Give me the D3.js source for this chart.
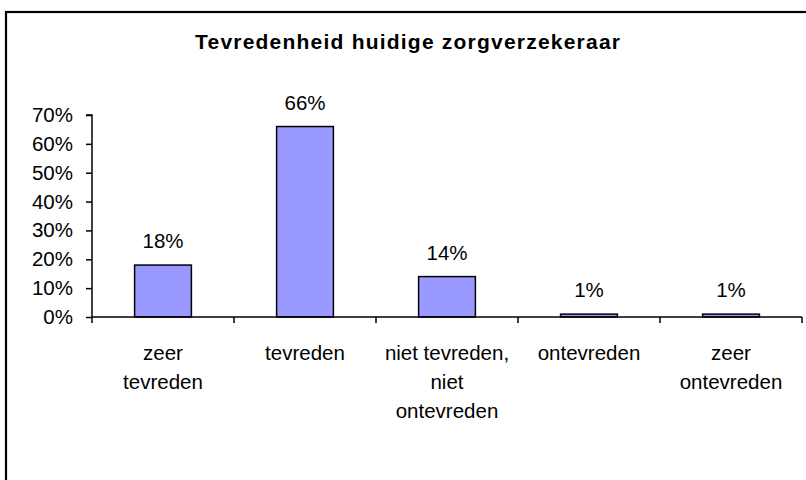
<!DOCTYPE html>
<html>
<head>
<meta charset="utf-8">
<script src="https://cdn.jsdelivr.net/npm/d3@7"></script>
<style>
  body { margin: 0; background: #fff; }
  svg { display: block; font-family: Arial, "Liberation Sans", sans-serif; }
</style>
</head>
<body>
<svg id="chart" width="806" height="480"></svg>
<script>
// data
const categories = [["zeer", "tevreden"], ["tevreden"], ["niet tevreden,", "niet", "ontevreden"], ["ontevreden"], ["zeer", "ontevreden"]]
const values = [0.18, 0.66, 0.14, 0.01, 0.01]
const yTicks = [0, 0.1, 0.2, 0.3, 0.4, 0.5, 0.6, 0.7]
const title = "Tevredenheid huidige zorgverzekeraar"

const fs = "20.5px"
const svg = d3.select("#chart")

// outer frame, runs off the right and bottom edge
svg.append("rect")
    .attr("x", 6).attr("y", 12)
    .attr("width", 900).attr("height", 600)
    .attr("fill", "white")
    .attr("stroke", "black")
    .attr("stroke-width", 2.2)

svg.append("text")
    .attr("x", 195).attr("y", 49)
    .attr("textLength", 425)
    .attr("lengthAdjust", "spacing")
    .style("font-size", "21px")
    .style("font-weight", "bold")
    .text(title)

const x0 = 92, x1 = 802, yBase = 317, yTop = 115

const xScale = d3.scaleBand()
    .domain(d3.range(values.length))
    .range([x0, x1])
    .paddingInner(0.6)
    .paddingOuter(0.3)

const yScale = d3.scaleLinear()
    .domain([0, 0.7])
    .range([yBase, yTop])

const g = svg.append("g")

// bars
g.selectAll(".bar")
    .data(values)
    .enter().append("rect")
    .attr("class", "bar")
    .attr("x", (d, i) => xScale(i))
    .attr("y", d => yScale(d))
    .attr("width", xScale.bandwidth())
    .attr("height", d => yBase - yScale(d))
    .attr("fill", "#9999ff")
    .attr("stroke", "black")
    .attr("stroke-width", 1.5)

// value labels
g.selectAll(".val")
    .data(values)
    .enter().append("text")
    .attr("class", "val")
    .attr("x", (d, i) => xScale(i) + xScale.bandwidth() / 2)
    .attr("y", d => yScale(d) - 17)
    .attr("text-anchor", "middle")
    .style("font-size", fs)
    .text(d => Math.round(d * 100) + "%")

// y axis
const yAxis = d3.axisLeft(yScale)
    .tickValues(yTicks)
    .tickFormat(d => Math.round(d * 100) + "%")
    .tickSize(6)
    .tickPadding(13)
const ya = svg.append("g").attr("transform", `translate(${x0},0)`).call(yAxis)
ya.select(".domain").attr("stroke-width", 1.5).attr("d", `M-6,${yTop}H0V${yBase}`)
ya.selectAll(".tick line").attr("stroke-width", 1.5)
ya.selectAll(".tick text").style("font-size", fs).style("font-family", "Arial, 'Liberation Sans', sans-serif").attr("fill", "black")

// x axis: line with tick marks at band edges
const edges = d3.range(values.length + 1).map(i => x0 + i * (x1 - x0) / values.length)
svg.append("line")
    .attr("x1", x0).attr("x2", x1)
    .attr("y1", yBase).attr("y2", yBase)
    .attr("stroke", "black").attr("stroke-width", 1.5)
svg.selectAll(".xtick")
    .data(edges)
    .enter().append("line")
    .attr("class", "xtick")
    .attr("x1", d => d).attr("x2", d => d)
    .attr("y1", yBase).attr("y2", yBase + 6)
    .attr("stroke", "black").attr("stroke-width", 1.5)

// category labels
const cat = svg.selectAll(".cat")
    .data(categories)
    .enter().append("text")
    .attr("class", "cat")
    .attr("text-anchor", "middle")
    .style("font-size", fs)
cat.selectAll("tspan")
    .data((d, i) => d.map(s => ({ s: s, i: i })))
    .enter().append("tspan")
    .attr("x", d => xScale(d.i) + xScale.bandwidth() / 2)
    .attr("y", (d, j) => 360 + j * 29)
    .text(d => d.s)
</script>
</body>
</html>
